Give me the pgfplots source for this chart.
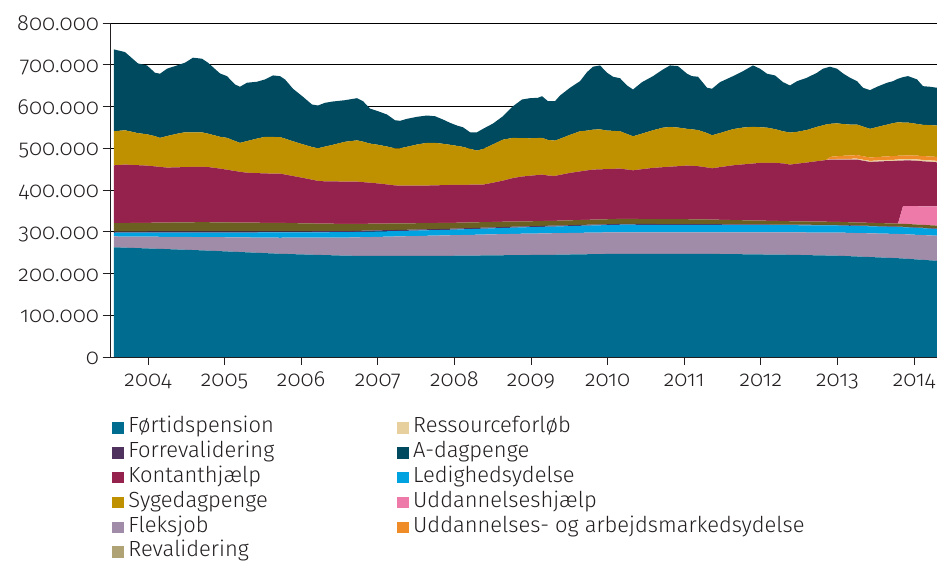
\documentclass[border=0pt]{standalone}
\usepackage{fontspec}
\setmainfont{Fira Sans Light}[Numbers=OldStyle]
\usepackage{pgfplots}
\usepackage{pgfplotstable}
\pgfplotsset{compat=1.18}
\pgfplotsset{
  /pgfplots/layers/mylayers/.define layer set={
    axis background,axis grid,pre main,main,axis ticks,axis lines,
    axis tick labels,axis descriptions,axis foreground
  }{/pgfplots/layers/standard},
}
\definecolor{cF}{HTML}{006C8F}
\definecolor{cFl}{HTML}{A08BA8}
\definecolor{cL}{HTML}{00A3E0}
\definecolor{cFr}{HTML}{50325F}
\definecolor{cR}{HTML}{6B5F21}
\definecolor{cRleg}{HTML}{AFA375}
\definecolor{cU}{HTML}{EE7AAA}
\definecolor{cK}{HTML}{95224D}
\definecolor{cRf}{HTML}{E8D09E}
\definecolor{cUA}{HTML}{F08C28}
\definecolor{cS}{HTML}{BF9000}
\definecolor{cA}{HTML}{004A5F}
\definecolor{textc}{HTML}{231F20}

% values in thousands of persons
\pgfplotstableread{
x F Fl L Fr R U K Rf UA S A
2003.556 262.8 25.9 8.9 2.8 20.0 0 138.7 0 0 81.6 196.1
2003.700 261.9 26.6 9.2 2.8 20.3 0 140.0 0 0 82.3 187.2
2003.869 260.8 27.5 9.5 2.8 20.6 0 138.2 0 0 76.8 167.0
2003.987 260.0 28.1 9.7 2.8 20.8 0 137.0 0 0 75.1 164.9
2004.091 259.4 28.7 9.8 2.8 21.0 0 134.8 0 0 72.5 151.9
2004.157 259.0 29.0 10.0 2.8 21.1 0 133.4 0 0 69.6 153.6
2004.248 258.4 29.5 10.1 2.8 21.2 0 131.6 0 0 75.6 161.3
2004.379 257.5 30.2 10.4 2.8 21.5 0 131.9 0 0 80.4 163.7
2004.483 256.9 30.7 10.5 2.8 21.7 0 132.2 0 0 83.5 166.6
2004.587 256.2 31.2 10.7 2.8 21.8 0 132.6 0 0 82.5 179.1
2004.705 255.4 31.9 10.9 2.8 22.0 0 132.3 0 0 82.8 176.4
2004.783 254.8 32.4 11.0 2.8 21.8 0 132.2 0 0 80.0 169.9
2004.940 253.5 33.4 11.3 2.8 21.5 0 128.7 0 0 76.3 151.7
2005.031 252.8 34.0 11.4 2.8 21.3 0 126.3 0 0 76.3 147.8
2005.136 251.9 34.6 11.6 2.8 21.1 0 123.4 0 0 72.0 135.4
2005.201 251.4 35.1 11.7 2.8 21.0 0 121.5 0 0 69.4 134.4
2005.292 250.7 35.6 11.9 2.8 20.8 0 119.6 0 0 75.8 139.7
2005.423 249.6 36.5 12.1 2.8 20.6 0 118.8 0 0 82.8 136.1
2005.527 248.8 37.2 12.3 2.8 20.4 0 118.2 0 0 87.6 137.5
2005.632 248.0 37.8 12.6 2.8 20.2 0 117.8 0 0 87.8 147.4
2005.723 247.2 38.4 12.7 2.8 20.0 0 118.1 0 0 87.6 145.9
2005.789 246.9 38.8 12.7 2.8 19.8 0 116.0 0 0 86.0 141.8
2005.893 246.3 39.4 12.7 2.8 19.4 0 112.8 0 0 83.3 125.8
2006.023 245.6 40.1 12.8 2.6 19.0 0 108.8 0 0 80.4 114.0
2006.141 245.0 40.8 12.8 2.6 18.6 0 104.8 0 0 78.4 101.8
2006.219 244.6 41.3 12.8 2.6 18.4 0 102.0 0 0 78.2 102.5
2006.311 244.1 41.8 12.8 2.6 18.1 0 101.3 0 0 83.3 104.9
2006.415 243.6 42.4 12.9 2.6 17.7 0 101.3 0 0 87.8 103.7
2006.572 242.7 43.3 12.9 2.6 17.2 0 101.5 0 0 95.3 99.6
2006.728 242.4 44.2 12.9 2.6 16.8 0 101.1 0 0 98.9 101.0
2006.807 242.4 44.6 12.9 2.6 16.6 0 99.7 0 0 97.0 96.9
2006.898 242.4 44.9 12.9 2.6 16.4 0 98.2 0 0 93.8 84.0
2007.003 242.4 45.4 13.0 2.6 16.2 0 96.1 0 0 92.6 80.4
2007.120 242.4 45.8 13.0 2.6 15.9 0 93.6 0 0 90.9 76.6
2007.225 242.4 46.3 13.0 2.5 15.7 0 91.0 0 0 88.8 67.4
2007.290 242.4 46.5 13.0 2.5 15.5 0 90.5 0 0 89.5 65.8
2007.381 242.4 46.9 13.0 2.5 15.3 0 90.3 0 0 93.1 67.0
2007.512 242.4 47.4 13.1 2.5 15.0 0 90.0 0 0 98.6 66.3
2007.642 242.4 48.0 13.1 2.5 14.7 0 89.9 0 0 102.3 65.5
2007.747 242.4 48.4 13.1 2.5 14.5 0 90.2 0 0 101.8 63.8
2007.851 242.4 48.8 13.2 2.5 14.2 0 90.5 0 0 99.1 58.1
2007.943 242.4 49.2 13.2 2.4 14.0 0 90.9 0 0 96.2 52.6
2008.034 242.6 49.4 13.4 2.4 13.8 0 90.7 0 0 93.4 48.7
2008.112 242.7 49.6 13.6 2.4 13.7 0 90.3 0 0 91.0 47.0
2008.204 242.9 49.7 13.8 2.4 13.5 0 90.3 0 0 86.1 39.6
2008.295 243.0 49.9 14.0 2.4 13.3 0 90.0 0 0 81.8 43.9
2008.373 243.2 50.1 14.1 2.4 13.2 0 89.8 0 0 85.4 48.3
2008.504 243.4 50.4 14.4 2.3 12.9 0 94.0 0 0 91.9 49.9
2008.634 243.7 50.7 14.7 2.3 12.6 0 98.4 0 0 98.2 56.1
2008.765 243.9 50.9 15.0 2.3 12.2 0 104.3 0 0 96.3 75.8
2008.883 244.2 51.1 15.2 2.2 12.0 0 107.5 0 0 92.0 92.6
2008.987 244.3 51.3 15.4 2.2 11.8 0 109.2 0 0 89.7 96.0
2009.091 244.5 51.3 15.6 2.2 11.8 0 110.4 0 0 88.8 96.3
2009.144 244.6 51.5 15.7 2.2 11.7 0 111.1 0 0 88.1 99.8
2009.222 244.7 51.6 15.9 2.2 11.5 0 108.7 0 0 85.2 92.9
2009.313 244.9 51.6 16.0 2.2 11.5 0 107.5 0 0 84.7 94.3
2009.379 245.1 51.6 16.2 2.1 11.6 0 109.5 0 0 86.6 103.7
2009.509 245.5 51.6 16.5 2.1 11.6 0 113.6 0 0 91.2 112.8
2009.640 245.9 51.6 16.8 2.1 11.7 0 116.4 0 0 96.2 120.0
2009.731 246.1 51.6 17.0 2.1 11.8 0 118.3 0 0 95.3 140.1
2009.809 246.3 51.6 17.2 2.0 11.8 0 119.9 0 0 95.8 150.7
2009.901 246.5 51.6 17.4 2.0 11.9 0 120.1 0 0 95.8 153.1
2009.992 246.8 51.6 17.6 2.0 11.9 0 120.1 0 0 92.4 138.5
2010.070 247.0 51.6 17.8 2.0 12.0 0 120.3 0 0 91.0 129.6
2010.162 247.2 51.6 18.0 1.9 12.0 0 120.5 0 0 89.5 127.0
2010.253 247.2 51.6 18.0 1.9 12.0 0 118.3 0 0 85.2 116.2
2010.332 247.2 51.6 18.0 1.9 11.9 0 116.5 0 0 81.6 112.1
2010.449 247.2 51.6 17.9 1.9 11.9 0 119.3 0 0 85.2 123.3
2010.593 247.2 51.6 17.9 1.9 11.8 0 122.5 0 0 90.2 129.6
2010.723 247.2 51.6 17.8 1.9 11.8 0 124.3 0 0 94.8 139.4
2010.815 247.2 51.6 17.8 1.9 11.7 0 125.6 0 0 95.0 147.6
2010.919 247.2 51.6 17.7 1.9 11.6 0 127.0 0 0 92.6 147.1
2011.037 247.2 51.6 17.7 1.9 11.6 0 128.4 0 0 88.1 132.0
2011.102 247.2 51.6 17.6 1.8 11.6 0 127.9 0 0 87.6 127.4
2011.180 247.2 51.6 17.6 1.8 11.5 0 127.3 0 0 86.6 127.7
2011.298 247.0 51.8 17.6 1.8 11.2 0 124.5 0 0 82.4 108.7
2011.363 246.9 51.9 17.5 1.8 11.0 0 122.8 0 0 79.2 111.4
2011.467 246.7 52.0 17.5 1.8 10.7 0 126.1 0 0 81.6 121.9
2011.637 246.3 52.3 17.5 1.7 10.2 0 131.1 0 0 86.7 126.9
2011.768 246.1 52.5 17.4 1.7 9.8 0 133.8 0 0 88.3 135.1
2011.898 245.8 52.7 17.4 1.6 9.4 0 136.5 0 0 87.9 147.1
2011.990 245.6 52.9 17.4 1.6 9.2 0 138.2 0 0 85.4 140.2
2012.081 245.4 53.0 17.4 1.6 8.9 0 138.6 0 0 84.5 129.1
2012.185 245.2 53.2 17.4 1.5 8.6 0 139.0 0 0 80.9 128.6
2012.290 245.0 53.4 17.3 1.5 8.3 0 138.2 0 0 77.0 117.6
2012.381 244.8 53.5 17.3 1.5 8.0 0 135.7 0 0 76.8 112.8
2012.473 244.5 53.8 17.3 1.5 7.9 0 138.0 0 0 76.3 121.4
2012.603 244.0 54.2 17.2 1.5 7.7 0 141.2 0 0 78.0 125.1
2012.734 243.5 54.6 17.1 1.4 7.6 0 144.8 0 0 82.3 129.6
2012.812 243.2 54.9 17.1 1.4 7.5 0 146.6 0 0 84.3 135.6
2012.851 243.1 55.0 17.1 1.4 7.4 0 147.6 0 0 85.2 135.8
2012.903 242.9 55.1 17.1 1.4 7.3 0 149.0 1.2 5.3 79.2 136.8
2012.995 242.6 55.4 17.0 1.4 7.2 0 149.2 1.5 6.5 78.9 130.8
2013.073 242.1 55.7 17.0 1.3 7.1 0 149.6 1.7 7.5 76.0 121.2
2013.164 241.4 55.9 17.0 1.3 7.0 0 150.2 2.0 8.0 74.0 112.1
2013.256 240.7 56.2 16.9 1.3 7.0 0 150.7 2.2 8.4 73.4 103.9
2013.334 240.1 56.5 16.9 1.3 7.0 0 148.4 2.3 8.4 71.1 92.9
2013.426 239.4 56.8 16.8 1.3 7.0 0 146.0 2.4 8.2 68.6 92.6
2013.517 238.7 57.1 16.8 1.2 7.0 0 147.3 2.5 8.3 71.9 96.5
2013.648 237.7 57.6 16.7 1.2 7.0 0 149.0 2.7 8.7 76.0 100.3
2013.726 237.1 57.9 16.6 1.2 7.0 0 149.6 2.8 9.0 79.0 100.5
2013.791 236.6 58.1 16.6 1.2 7.0 0 150.7 2.9 9.0 80.0 104.4
2013.856 235.9 58.3 16.6 1.2 7.0 42.2 109.4 2.9 9.0 79.1 108.7
2013.922 235.1 58.6 16.6 1.2 7.0 42.8 109.7 3.0 9.0 78.5 111.3
2014.039 233.6 59.0 16.5 1.2 7.0 43.8 108.9 3.2 9.2 75.9 106.6
2014.117 232.7 59.3 16.4 1.2 7.0 44.4 107.7 3.3 9.3 74.8 92.6
2014.209 231.5 59.7 16.2 1.2 7.0 45.1 106.8 3.4 9.4 75.1 91.9
2014.300 230.4 60.0 16.1 1.2 7.0 46.0 105.6 3.5 9.5 75.1 90.5
}\data

\begin{document}
\begin{tikzpicture}
\begin{axis}[
  set layers=mylayers,
  at={(0,0)}, anchor=south west,
  scale only axis, width=827bp, height=334bp,
  xmin=2003.504, xmax=2014.300, ymin=0, ymax=800,
  stack plots=y,
  axis x line=bottom, axis y line=left,
  axis line style={-, draw=textc, line width=0.8bp},
  xtick={2004,2005,2006,2007,2008,2009,2010,2011,2012,2013,2014},
  xticklabels={2004,2005,2006,2007,2008,2009,2010,2011,2012,2013,2014},
  ytick={0,100,200,300,400,500,600,700,800},
  yticklabels={0,100.000,200.000,300.000,400.000,500.000,600.000,700.000,800.000},
  tick align=outside, major tick length=7.5bp,
  tick style={draw=textc, line width=0.8bp},
  ymajorgrids, grid style={draw=black, line width=0.9bp},
  ticklabel style={font=\fontsize{22}{26}\selectfont, text=textc},
  xticklabel style={inner ysep=0pt, text height=14bp, text depth=5bp, yshift=-7.5bp},
  yticklabel style={text height=14bp, text depth=5bp, yshift=-3bp},
  legend columns=2,
  legend cell align=left,
  legend style={at={(0,0)}, anchor=north west, xshift=2.3bp, yshift=-61.7bp,
    draw=none, fill=none, inner sep=0pt, text=textc,
    font=\fontsize{22}{26}\selectfont,
    nodes={inner xsep=0pt, inner ysep=0pt, text height=14bp, text depth=5bp},
    row sep=5.8bp,
    /tikz/every odd column/.append style={column sep=5bp},
    /tikz/every even column/.append style={column sep=123bp}},
]
\addlegendimage{legend image code/.code={\fill[cF] (0bp,-4.5bp) rectangle (10.5bp,5.8bp);}}
\addlegendentry{Førtidspension}
\addlegendimage{legend image code/.code={\fill[cRf] (0bp,-4.5bp) rectangle (10.5bp,5.8bp);}}
\addlegendentry{Ressourceforløb}
\addlegendimage{legend image code/.code={\fill[cFr] (0bp,-4.5bp) rectangle (10.5bp,5.8bp);}}
\addlegendentry{Forrevalidering}
\addlegendimage{legend image code/.code={\fill[cA] (0bp,-4.5bp) rectangle (10.5bp,5.8bp);}}
\addlegendentry{A-dagpenge}
\addlegendimage{legend image code/.code={\fill[cK] (0bp,-4.5bp) rectangle (10.5bp,5.8bp);}}
\addlegendentry{Kontanthjælp}
\addlegendimage{legend image code/.code={\fill[cL] (0bp,-4.5bp) rectangle (10.5bp,5.8bp);}}
\addlegendentry{Ledighedsydelse}
\addlegendimage{legend image code/.code={\fill[cS] (0bp,-4.5bp) rectangle (10.5bp,5.8bp);}}
\addlegendentry{Sygedagpenge}
\addlegendimage{legend image code/.code={\fill[cU] (0bp,-4.5bp) rectangle (10.5bp,5.8bp);}}
\addlegendentry{Uddannelseshjælp}
\addlegendimage{legend image code/.code={\fill[cFl] (0bp,-4.5bp) rectangle (10.5bp,5.8bp);}}
\addlegendentry{Fleksjob}
\addlegendimage{legend image code/.code={\fill[cUA] (0bp,-4.5bp) rectangle (10.5bp,5.8bp);}}
\addlegendentry{Uddannelses- og arbejdsmarkedsydelse}
\addlegendimage{legend image code/.code={\fill[cRleg] (0bp,-4.5bp) rectangle (10.5bp,5.8bp);}}
\addlegendentry{Revalidering}

\addplot[fill=cF, draw=none] table[x=x, y=F] {\data} \closedcycle;
\addplot[fill=cFl, draw=none] table[x=x, y=Fl] {\data} \closedcycle;
\addplot[fill=cL, draw=none] table[x=x, y=L] {\data} \closedcycle;
\addplot[fill=cFr, draw=none] table[x=x, y=Fr] {\data} \closedcycle;
\addplot[fill=cR, draw=none] table[x=x, y=R] {\data} \closedcycle;
\addplot[fill=cU, draw=none] table[x=x, y=U] {\data} \closedcycle;
\addplot[fill=cK, draw=none] table[x=x, y=K] {\data} \closedcycle;
\addplot[fill=cRf, draw=none] table[x=x, y=Rf] {\data} \closedcycle;
\addplot[fill=cUA, draw=none] table[x=x, y=UA] {\data} \closedcycle;
\addplot[fill=cS, draw=none] table[x=x, y=S] {\data} \closedcycle;
\addplot[fill=cA, draw=none] table[x=x, y=A] {\data} \closedcycle;
\end{axis}
\pgfresetboundingbox
\useasboundingbox (-110bp,-206bp) rectangle (827bp,357bp);
\end{tikzpicture}
\end{document}
